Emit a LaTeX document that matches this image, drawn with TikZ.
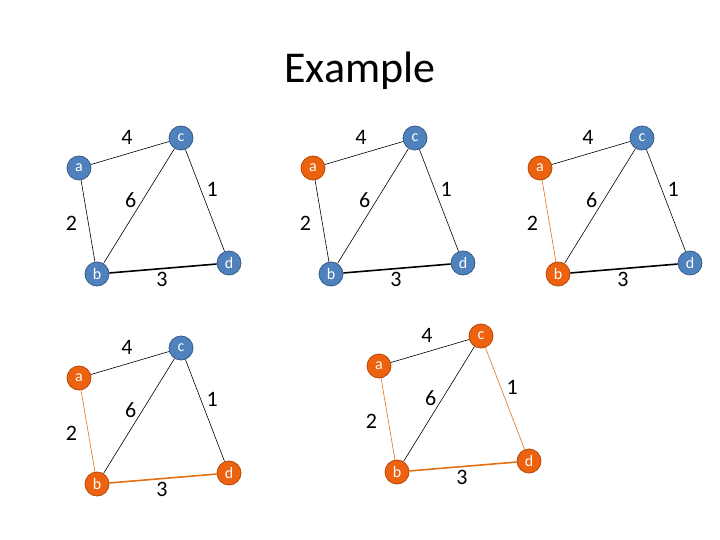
\documentclass[tikz,border=0pt]{standalone}
\usepackage{fontspec}
\setmainfont{Carlito}
\usetikzlibrary{positioning}

\definecolor{vbfill}{RGB}{79,129,189}
\definecolor{vbline}{RGB}{56,93,138}
\definecolor{vofill}{RGB}{236,98,14}
\definecolor{voline}{RGB}{180,72,10}
\definecolor{oedge}{RGB}{228,112,20}

\begin{document}
\begin{tikzpicture}[x=1pt,y=-1pt,
  vb/.style={circle,draw=vbline,fill=vbfill,line width=0.8pt,minimum size=24pt,inner sep=0pt,text=white,font=\fontsize{16}{16}\selectfont},
  vo/.style={vb,draw=voline,fill=vofill},
  wt/.style={font=\fontsize{22}{22}\selectfont,inner sep=3pt},
  ln/.style={draw=black,line width=0.6pt},
  lnh/.style={ln,line width=1.6pt},
  lno/.style={ln,draw=oedge},
  lnoh/.style={lnh,draw=oedge}]
\path[use as bounding box] (0,0) rectangle (720,540);
\path node[anchor=base] (title) at (360,83) {\fontsize{44}{44}\selectfont Example};

% all blue
\begin{scope}[name prefix=g1-]
\path node[vb] (a) at (79,168) {a};
\path node[vb] (c) at (181,138) {c};
\path node[vb] (b) at (97,274) {b};
\path node[vb] (d) at (229,263) {d};
\path (a) edge[ln] node[wt,pos=0.46,above=6pt] (w4) {4} (c);
\path (b) edge[ln] node[wt,pos=0.55,left=3pt] (w6) {6} (c);
\path (c) edge[ln] node[wt,pos=0.39,right=2.5pt] (w1) {1} (d);
\path (a) edge[ln] node[wt,pos=0.53,left=8pt] (w2) {2} (b);
\path (b) edge[lnh] node[wt,pos=0.49,below=0pt] (w3) {3} (d);
\end{scope}

% start at a
\begin{scope}[shift={(234,0)},name prefix=g2-]
\path node[vo] (a) at (79,168) {a};
\path node[vb] (c) at (181,138) {c};
\path node[vb] (b) at (97,274) {b};
\path node[vb] (d) at (229,263) {d};
\path (a) edge[ln] node[wt,pos=0.46,above=6pt] (w4) {4} (c);
\path (b) edge[ln] node[wt,pos=0.55,left=3pt] (w6) {6} (c);
\path (c) edge[ln] node[wt,pos=0.39,right=2.5pt] (w1) {1} (d);
\path (a) edge[ln] node[wt,pos=0.53,left=8pt] (w2) {2} (b);
\path (b) edge[lnh] node[wt,pos=0.49,below=0pt] (w3) {3} (d);
\end{scope}

% add b
\begin{scope}[shift={(461,0)},name prefix=g3-]
\path node[vo] (a) at (79,168) {a};
\path node[vb] (c) at (181,138) {c};
\path node[vo] (b) at (97,274) {b};
\path node[vb] (d) at (229,263) {d};
\path (a) edge[ln] node[wt,pos=0.46,above=6pt] (w4) {4} (c);
\path (b) edge[ln] node[wt,pos=0.55,left=3pt] (w6) {6} (c);
\path (c) edge[ln] node[wt,pos=0.39,right=2.5pt] (w1) {1} (d);
\path (a) edge[lno] node[wt,pos=0.53,left=8pt] (w2) {2} (b);
\path (b) edge[lnh] node[wt,pos=0.49,below=0pt] (w3) {3} (d);
\end{scope}

% add d
\begin{scope}[shift={(0,210)},name prefix=g4-]
\path node[vo] (a) at (79,168) {a};
\path node[vb] (c) at (181,138) {c};
\path node[vo] (b) at (97,274) {b};
\path node[vo] (d) at (229,263) {d};
\path (a) edge[ln] node[wt,pos=0.46,above=6pt] (w4) {4} (c);
\path (b) edge[ln] node[wt,pos=0.55,left=3pt] (w6) {6} (c);
\path (c) edge[ln] node[wt,pos=0.39,right=2.5pt] (w1) {1} (d);
\path (a) edge[lno] node[wt,pos=0.53,left=8pt] (w2) {2} (b);
\path (b) edge[lnoh] node[wt,pos=0.49,below=0pt] (w3) {3} (d);
\end{scope}

% add c
\begin{scope}[shift={(300,198)},name prefix=g5-]
\path node[vo] (a) at (79,168) {a};
\path node[vo] (c) at (181,138) {c};
\path node[vo] (b) at (97,274) {b};
\path node[vo] (d) at (229,263) {d};
\path (a) edge[ln] node[wt,pos=0.46,above=6pt] (w4) {4} (c);
\path (b) edge[ln] node[wt,pos=0.55,left=3pt] (w6) {6} (c);
\path (c) edge[lno] node[wt,pos=0.39,right=2.5pt] (w1) {1} (d);
\path (a) edge[lno] node[wt,pos=0.53,left=8pt] (w2) {2} (b);
\path (b) edge[lnoh] node[wt,pos=0.49,below=0pt] (w3) {3} (d);
\end{scope}
\end{tikzpicture}
\end{document}
